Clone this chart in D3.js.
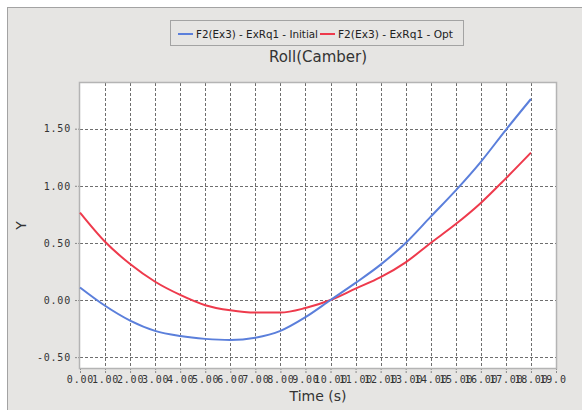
<!DOCTYPE html>
<html>
<head>
<meta charset="utf-8">
<script src="https://cdn.jsdelivr.net/npm/d3@7"></script>
<style>
  body { margin: 0; background: #fff; }
  svg { display: block; }
</style>
</head>
<body>
<div id="chart"></div>
<script>
// data
const timeValues = [0, 1, 2, 3, 4, 5, 6, 7, 8, 9, 10, 11, 12, 13, 14, 15, 16, 17, 18];
const initialValues = [0.11, -0.05, -0.18, -0.27, -0.315, -0.34, -0.35, -0.33, -0.27, -0.15, 0.0, 0.15, 0.31, 0.50, 0.73, 0.96, 1.21, 1.49, 1.76];
const optValues = [0.765, 0.51, 0.315, 0.16, 0.045, -0.045, -0.09, -0.11, -0.11, -0.07, 0.0, 0.10, 0.20, 0.33, 0.50, 0.665, 0.85, 1.065, 1.29];
const xTickValues = d3.range(0, 20);
const yTickValues = [-0.5, 0, 0.5, 1.0, 1.5];
const seriesNames = ["F2(Ex3) - ExRq1 - Initial", "F2(Ex3) - ExRq1 - Opt"];

const width = 582, height = 410;
const plot = { left: 80, top: 83, right: 556, bottom: 368 };
const blue = "#5b7fdb", red = "#ee3a4c";
const monoFont = "'DejaVu Sans Mono', monospace";
const sansFont = "'DejaVu Sans', sans-serif";

const svg = d3.select("#chart")
  .append("svg")
  .attr("width", width)
  .attr("height", height);

// outer panel
svg.append("rect")
  .attr("x", 7.5).attr("y", 7.5)
  .attr("width", 620).attr("height", 430)
  .attr("fill", "#e6e5e3")
  .attr("stroke", "#a3a3a3");

const x = d3.scaleLinear().domain([0, 19]).range([plot.left, plot.right]);
const y = d3.scaleLinear().domain([-0.595, 1.9]).range([plot.bottom, plot.top]);

// plot area
svg.append("rect")
  .attr("x", plot.left).attr("y", plot.top)
  .attr("width", plot.right - plot.left).attr("height", plot.bottom - plot.top)
  .attr("fill", "#fff");

svg.append("clipPath").attr("id", "xlab")
  .append("rect").attr("x", 0).attr("y", 0).attr("width", 567).attr("height", height);

// x axis (ticks + overlapping labels, as in the original)
const xAxis = svg.append("g")
  .attr("transform", `translate(0,${plot.bottom})`)
  .attr("clip-path", "url(#xlab)")
  .call(d3.axisBottom(x).tickValues(xTickValues).tickSize(5).tickPadding(3)
    .tickFormat(d => d.toFixed(2)));
xAxis.select(".domain").remove();
xAxis.selectAll("line").attr("stroke", "#888").attr("stroke-dasharray", "2,1");
xAxis.selectAll("text")
  .attr("fill", "#333")
  .style("font-family", monoFont)
  .style("font-size", "10px")
  .style("letter-spacing", "0.8px");

// y axis
const yAxis = svg.append("g")
  .attr("transform", `translate(${plot.left},0)`)
  .call(d3.axisLeft(y).tickValues(yTickValues).tickSize(6).tickPadding(3)
    .tickFormat(d => d.toFixed(2)));
yAxis.select(".domain").remove();
yAxis.selectAll("line").attr("stroke", "#888").attr("stroke-dasharray", "2,1");
yAxis.selectAll("text")
  .attr("fill", "#333")
  .style("font-family", monoFont)
  .style("font-size", "10px")
  .style("letter-spacing", "0.8px");

// grid
const grid = svg.append("g")
  .attr("stroke", "#6e6e6e")
  .attr("stroke-width", 1)
  .attr("stroke-dasharray", "3,2");
grid.selectAll("line.v")
  .data(xTickValues.filter(d => d > 0 && d < 19))
  .enter().append("line")
  .attr("x1", d => Math.round(x(d)) + 0.5).attr("x2", d => Math.round(x(d)) + 0.5)
  .attr("y1", plot.top).attr("y2", plot.bottom);
grid.selectAll("line.h")
  .data(yTickValues)
  .enter().append("line")
  .attr("x1", plot.left).attr("x2", plot.right)
  .attr("y1", d => Math.round(y(d)) + 0.5).attr("y2", d => Math.round(y(d)) + 0.5);

// plot border
svg.append("rect")
  .attr("x", plot.left - 0.5).attr("y", plot.top - 0.5)
  .attr("width", plot.right - plot.left + 1).attr("height", plot.bottom - plot.top + 1)
  .attr("fill", "none")
  .attr("stroke", "#b4b4b4")
  .attr("stroke-width", 1.5);

// lines
const line = d3.line()
  .x((d, i) => x(timeValues[i]))
  .y(d => y(d))
  .curve(d3.curveMonotoneX);

svg.append("path")
  .datum(optValues)
  .attr("fill", "none")
  .attr("stroke", red)
  .attr("stroke-width", 2)
  .attr("d", line);

svg.append("path")
  .datum(initialValues)
  .attr("fill", "none")
  .attr("stroke", blue)
  .attr("stroke-width", 2)
  .attr("d", line);

// legend
svg.append("rect")
  .attr("x", 170.5).attr("y", 20.5)
  .attr("width", 293).attr("height", 25)
  .attr("fill", "#e6e5e3")
  .attr("stroke", "#a3a3a3");

const legendItems = [
  { name: seriesNames[0], color: blue, x: 178, w: 122 },
  { name: seriesNames[1], color: red, x: 320, w: 115 }
];
const legend = svg.append("g");
legendItems.forEach(it => {
  legend.append("line")
    .attr("x1", it.x).attr("x2", it.x + 15)
    .attr("y1", 34).attr("y2", 34)
    .attr("stroke", it.color).attr("stroke-width", 2);
  legend.append("text")
    .attr("x", it.x + 18).attr("y", 38)
    .attr("textLength", it.w)
    .attr("lengthAdjust", "spacingAndGlyphs")
    .attr("fill", "#222")
    .style("font-family", sansFont)
    .style("font-size", "11px")
    .text(it.name);
});

// title
svg.append("text")
  .attr("x", (plot.left + plot.right) / 2).attr("y", 62)
  .attr("text-anchor", "middle")
  .attr("fill", "#333")
  .style("font-family", sansFont)
  .style("font-size", "15px")
  .text("Roll(Camber)");

// axis titles
svg.append("text")
  .attr("x", (plot.left + plot.right) / 2).attr("y", 401)
  .attr("text-anchor", "middle")
  .attr("fill", "#333")
  .style("font-family", sansFont)
  .style("font-size", "14px")
  .text("Time (s)");

svg.append("text")
  .attr("transform", `translate(26,${(plot.top + plot.bottom) / 2}) rotate(-90)`)
  .attr("text-anchor", "middle")
  .attr("fill", "#333")
  .style("font-family", sansFont)
  .style("font-size", "14px")
  .text("Y");
</script>
</body>
</html>
